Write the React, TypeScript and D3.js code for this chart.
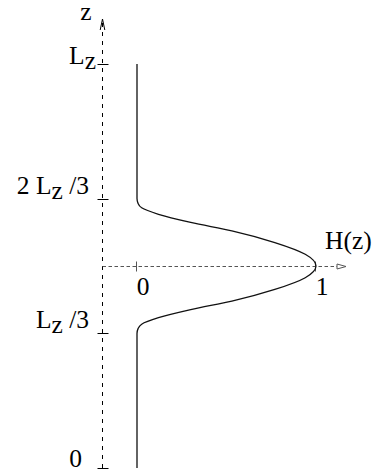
import React from "react";
import * as d3 from "d3";

// Profile H(z), z in units of L_z
const zValues = [0, 0.333, 0.345, 0.356, 0.372, 0.392, 0.413, 0.442, 0.471, 0.5, 0.529, 0.558, 0.587, 0.608, 0.628, 0.644, 0.655, 0.667, 1];
const hValues = [0, 0, 0.006, 0.026, 0.12, 0.3, 0.53, 0.77, 0.94, 1, 0.94, 0.77, 0.53, 0.3, 0.12, 0.026, 0.006, 0, 0];

// Vertical axis ticks
const zTicks = [0, 1 / 3, 2 / 3, 1];
const zTickLabels = ["0", "L_z /3", "2 L_z /3", "L_z"];

// Horizontal axis ticks
const hTicks = [0, 1];
const hTickLabels = ["0", "1"];

const W = 374;
const H = 473;
const FONT = "'Liberation Serif', 'Times New Roman', serif";

const x = d3.scaleLinear().domain([0, 1]).range([137, 316]);
const y = d3.scaleLinear().domain([0, 1]).range([468, 64]);

const axisX = 102.5;
const axisY = y(0.5) + 0.5;

function renderLabel(label: string) {
  const parts = label.split("_z");
  if (parts.length === 1) return label;
  return (
    <>
      <tspan>{parts[0]}</tspan>
      <tspan dy={5}>z</tspan>
      <tspan dy={-5}>{parts[1]}</tspan>
    </>
  );
}

export default function App() {
  const pts: [number, number][] = zValues.map((z, i) => [hValues[i], z]);
  const line = d3
    .line<[number, number]>()
    .x((d) => x(d[0]))
    .y((d) => y(d[1]))
    .curve(d3.curveMonotoneY);

  const zTop = y.invert(19);
  const hLeft = x.invert(axisX);
  const hRight = x.invert(346);
  const arrowX = x(hRight);
  const arrowYTop = y(zTop);

  const labelEnd = [82, 89, 89, 96];
  const labelBase = [467, y(1 / 3) - 5, y(2 / 3) - 5, y(1)];

  return (
    <svg
      width={W}
      height={H}
      style={{ position: "absolute", left: 0, top: 0, background: "#fff" }}
      fontFamily={FONT}
      fontSize={25.5}
    >
      {/* vertical z axis */}
      <line
        x1={axisX}
        x2={axisX}
        y1={y(0)}
        y2={arrowYTop + 4}
        stroke="#000"
        strokeWidth={1}
        strokeDasharray="4,5"
      />
      <path
        d={`M${axisX - 2.3},${arrowYTop + 11} L${axisX},${arrowYTop} L${axisX + 2.3},${arrowYTop + 11}`}
        fill="none"
        stroke="#000"
        strokeWidth={1}
      />
      <text x={86} y={20} textAnchor="middle">z</text>

      {/* z ticks */}
      {zTicks.map((t, i) => (
        <g key={"zt" + i}>
          <line
            x1={axisX - 5}
            x2={axisX + 6}
            y1={Math.round(y(t)) + 0.5}
            y2={Math.round(y(t)) + 0.5}
            stroke="#000"
            strokeWidth={1}
          />
          <text x={labelEnd[i]} y={labelBase[i]} textAnchor="end">
            {renderLabel(zTickLabels[i])}
          </text>
        </g>
      ))}

      {/* horizontal H axis */}
      <line
        x1={x(hLeft)}
        x2={arrowX - 8}
        y1={axisY}
        y2={axisY}
        stroke="#555"
        strokeWidth={1}
        strokeDasharray="3.5,2.5"
      />
      <path
        d={`M${arrowX - 9},${axisY - 2.5} L${arrowX},${axisY} L${arrowX - 9},${axisY + 2.5} Z`}
        fill="#fff"
        stroke="#555"
        strokeWidth={1}
      />
      <text x={325} y={249}>H(z)</text>

      {hTicks.map((t, i) => (
        <g key={"ht" + i}>
          <line
            x1={Math.round(x(t)) - 0.5}
            x2={Math.round(x(t)) - 0.5}
            y1={axisY - 5}
            y2={axisY + 5}
            stroke="#555"
            strokeWidth={1}
          />
          <text x={x(t) + 6} y={295} textAnchor="middle">{hTickLabels[i]}</text>
        </g>
      ))}

      {/* H(z) profile */}
      <path d={line(pts) ?? ""} fill="none" stroke="#111" strokeWidth={1.3} />
    </svg>
  );
}
